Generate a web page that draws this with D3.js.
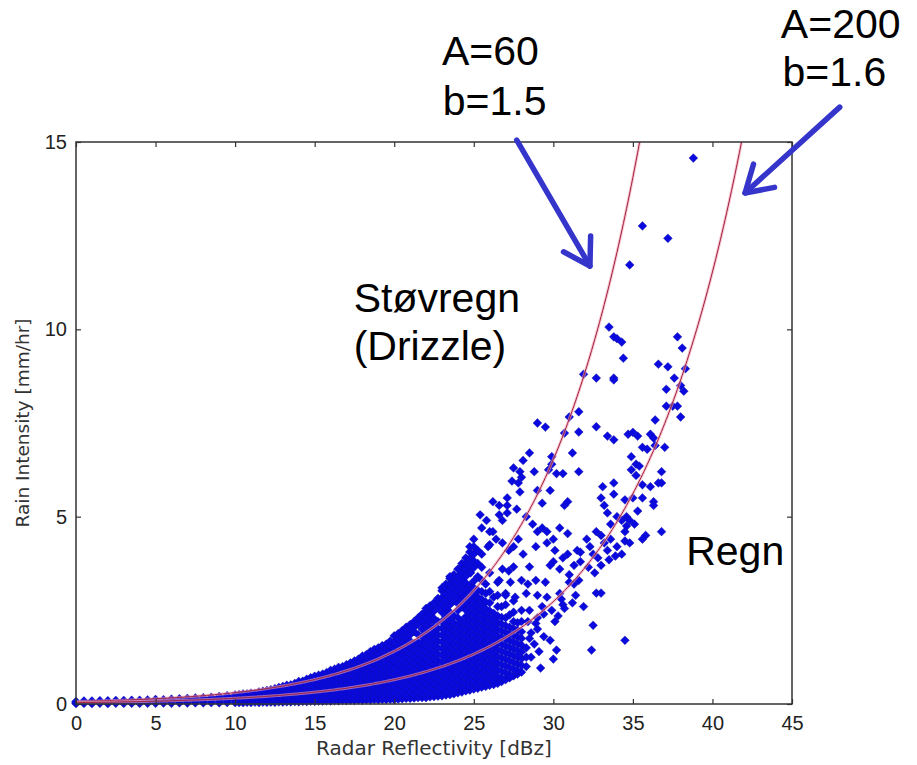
<!DOCTYPE html>
<html lang="en">
<head>
    <meta charset="UTF-8">
    <script src="https://d3js.org/d3.v7.min.js" charset="utf-8"></script>
    <title>Z-R scatter</title>
    <style>
        body { margin: 0; background: #fff; }
        .tick text { font-family: "Liberation Sans Narrow", "Liberation Sans", Arial, sans-serif; font-size: 20px; fill: #222; }
        .axis-label { font-family: "DejaVu Sans", sans-serif; fill: #333; }
        .note { font-family: "Liberation Sans", Arial, sans-serif; font-size: 41px; fill: #000; }
    </style>
</head>
<body>
    <div id="chart"></div>
    <script>
        const width = 917;
        const height = 765;

        const xTicks = [0, 5, 10, 15, 20, 25, 30, 35, 40, 45];
        const yTicks = [0, 5, 10, 15];

        // Z = A * R^b relations drawn as curves
        const relations = [
            { A: 60, b: 1.5 },
            { A: 200, b: 1.6 }
        ];

        // dense part of the cloud, read column by column: [dBZ, [rain values]]
        const bandColumns = [
            [0, [0.01, 0.04, 0.07]],
            [0.5, [0.015, 0.05, 0.08]],
            [1, [0.01, 0.045, 0.08]],
            [1.5, [0.02, 0.055, 0.09]],
            [2, [0.01, 0.05, 0.09]],
            [2.5, [0.02, 0.06, 0.095]],
            [3, [0.015, 0.055, 0.095]],
            [3.5, [0.02, 0.06, 0.1]],
            [4, [0.015, 0.055, 0.1]],
            [4.5, [0.02, 0.065, 0.11]],
            [5, [0.02, 0.06, 0.1, 0.12]],
            [5.5, [0.025, 0.07, 0.115]],
            [6, [0.02, 0.065, 0.11, 0.13]],
            [6.5, [0.03, 0.075, 0.12, 0.14]],
            [7, [0.025, 0.07, 0.115, 0.15]],
            [7.5, [0.03, 0.08, 0.125, 0.16]],
            [8, [0.03, 0.075, 0.12, 0.17]],
            [8.5, [0.035, 0.085, 0.135, 0.18]],
            [9, [0.03, 0.08, 0.13, 0.18, 0.2]],
            [9.5, [0.04, 0.09, 0.14, 0.19, 0.22]],
            [10, [0.035, 0.085, 0.135, 0.185, 0.24]],
            [10.25, [0.04, 0.09, 0.14, 0.19, 0.25]],
            [10.5, [0.035, 0.08, 0.13, 0.18, 0.23, 0.27]],
            [10.75, [0.045, 0.1, 0.155, 0.21, 0.27]],
            [11, [0.04, 0.09, 0.14, 0.19, 0.24, 0.29]],
            [11.25, [0.05, 0.1, 0.16, 0.22, 0.28]],
            [11.5, [0.04, 0.09, 0.15, 0.21, 0.27, 0.32]],
            [11.75, [0.05, 0.11, 0.17, 0.23, 0.29, 0.34]],
            [12, [0.045, 0.1, 0.16, 0.22, 0.28, 0.36]],
            [12.25, [0.05, 0.11, 0.18, 0.25, 0.32, 0.38]],
            [12.5, [0.045, 0.1, 0.16, 0.23, 0.3, 0.37, 0.41]],
            [12.75, [0.055, 0.12, 0.19, 0.26, 0.33, 0.4, 0.44]],
            [13, [0.05, 0.11, 0.18, 0.25, 0.32, 0.39, 0.47]],
            [13.25, [0.06, 0.13, 0.2, 0.28, 0.36, 0.44, 0.5]],
            [13.5, [0.055, 0.12, 0.19, 0.27, 0.35, 0.43, 0.51]],
            [13.75, [0.065, 0.14, 0.22, 0.3, 0.38, 0.46, 0.55]],
            [14, [0.06, 0.18, 0.3, 0.42, 0.54, 0.6]],
            [14.25, [0.07, 0.13, 0.25, 0.37, 0.49, 0.61]],
            [14.5, [0.065, 0.19, 0.31, 0.43, 0.55, 0.66]],
            [14.75, [0.075, 0.14, 0.26, 0.38, 0.5, 0.62, 0.7]],
            [15, [0.07, 0.2, 0.32, 0.44, 0.56, 0.68, 0.74]],
            [15.25, [0.08, 0.15, 0.27, 0.39, 0.51, 0.63, 0.77]],
            [15.5, [0.075, 0.21, 0.33, 0.45, 0.57, 0.69, 0.8]],
            [15.75, [0.085, 0.16, 0.28, 0.4, 0.52, 0.64, 0.76, 0.84]],
            [16, [0.08, 0.22, 0.34, 0.46, 0.58, 0.7, 0.82, 0.9]],
            [16.25, [0.09, 0.16, 0.28, 0.4, 0.52, 0.64, 0.76, 0.88, 0.93]],
            [16.5, [0.085, 0.22, 0.34, 0.46, 0.58, 0.7, 0.82, 0.94, 0.98]],
            [16.75, [0.095, 0.17, 0.29, 0.41, 0.53, 0.65, 0.77, 0.89, 1.0]],
            [17, [0.09, 0.23, 0.35, 0.47, 0.59, 0.71, 0.83, 0.95, 1.05]],
            [17.25, [0.1, 0.18, 0.3, 0.42, 0.54, 0.66, 0.78, 0.9, 1.02, 1.1]],
            [17.5, [0.095, 0.24, 0.36, 0.48, 0.6, 0.72, 0.84, 0.96, 1.08, 1.15]],
            [17.75, [0.105, 0.19, 0.31, 0.43, 0.55, 0.67, 0.79, 0.91, 1.03, 1.15, 1.2]],
            [18, [0.1, 0.25, 0.37, 0.49, 0.61, 0.73, 0.85, 0.97, 1.09, 1.21, 1.28]],
            [18.25, [0.11, 0.2, 0.32, 0.44, 0.56, 0.68, 0.8, 0.92, 1.04, 1.22, 1.32]],
            [18.5, [0.105, 0.26, 0.38, 0.5, 0.62, 0.74, 0.86, 0.98, 1.13, 1.28, 1.4]],
            [18.75, [0.115, 0.21, 0.33, 0.45, 0.57, 0.69, 0.81, 0.93, 1.08, 1.2, 1.3, 1.42, 1.46]],
            [19, [0.11, 0.27, 0.39, 0.51, 0.63, 0.75, 0.87, 0.99, 1.12, 1.24, 1.36, 1.48, 1.5]],
            [19.25, [0.12, 0.22, 0.34, 0.46, 0.58, 0.7, 0.82, 0.94, 1.06, 1.24, 1.42, 1.56]],
            [19.5, [0.115, 0.28, 0.4, 0.52, 0.64, 0.76, 0.88, 1.0, 1.12, 1.3, 1.48, 1.6]],
            [19.75, [0.125, 0.23, 0.35, 0.47, 0.59, 0.71, 0.83, 0.95, 1.07, 1.19, 1.31, 1.43, 1.55, 1.68]],
            [20, [0.12, 0.29, 0.46, 0.63, 0.8, 0.97, 1.14, 1.31, 1.48, 1.65, 1.82]],
            [20.25, [0.13, 0.21, 0.38, 0.55, 0.72, 0.89, 1.06, 1.23, 1.4, 1.57, 1.74, 1.88]],
            [20.5, [0.14, 0.3, 0.47, 0.64, 0.81, 0.98, 1.15, 1.32, 1.49, 1.66, 1.83, 1.96]],
            [20.75, [0.15, 0.23, 0.4, 0.57, 0.74, 0.91, 1.08, 1.25, 1.42, 1.59, 1.76, 1.93, 2.05]],
            [21, [0.15, 0.32, 0.49, 0.66, 0.83, 1.0, 1.17, 1.34, 1.51, 1.68, 1.85, 2.02, 2.12]],
            [21.25, [0.16, 0.25, 0.42, 0.59, 0.76, 0.93, 1.1, 1.27, 1.44, 1.61, 1.93, 2.05, 2.2]],
            [21.5, [0.17, 0.34, 0.51, 0.68, 0.85, 1.02, 1.19, 1.36, 1.53, 1.65, 1.85, 2.13, 2.3]],
            [21.75, [0.17, 0.27, 0.44, 0.61, 0.78, 0.95, 1.12, 1.29, 1.46, 1.63, 1.8, 2.0, 2.2, 2.4]],
            [22, [0.17, 0.35, 0.52, 0.69, 0.86, 1.03, 1.2, 1.37, 1.54, 1.71, 1.88, 2.1, 2.3, 2.47, 2.55]],
            [22.25, [0.19, 0.29, 0.46, 0.63, 0.8, 0.97, 1.14, 1.31, 1.48, 1.65, 1.82, 2.0, 2.2, 2.39, 2.56, 2.62]],
            [22.5, [0.2, 0.37, 0.54, 0.71, 0.88, 1.05, 1.22, 1.39, 1.56, 1.73, 1.9, 2.07, 2.28, 2.48, 2.65, 2.7]],
            [22.75, [0.21, 0.31, 0.48, 0.65, 0.82, 0.99, 1.16, 1.33, 1.5, 1.67, 1.84, 2.01, 2.2, 2.57, 2.74, 2.82]],
            [23, [0.22, 0.4, 0.58, 0.76, 0.94, 1.12, 1.3, 1.48, 1.66, 1.84, 2.02, 2.2, 2.45, 2.66, 2.84, 3.02, 3.1]],
            [23.25, [0.24, 0.33, 0.51, 0.69, 0.87, 1.05, 1.23, 1.41, 1.59, 1.77, 1.95, 2.13, 2.33, 2.55, 2.75, 2.93, 3.11, 3.2]],
            [23.5, [0.25, 0.43, 0.61, 0.79, 0.97, 1.15, 1.33, 1.51, 1.69, 1.87, 2.05, 2.23, 2.45, 2.65, 2.84, 3.02, 3.2, 3.35]],
            [23.75, [0.27, 0.36, 0.54, 0.72, 0.9, 1.08, 1.26, 1.44, 1.62, 1.8, 1.98, 2.16, 2.35, 2.75, 2.93, 3.11, 3.29, 3.45]],
            [24, [0.3, 0.48, 0.66, 0.84, 1.02, 1.2, 1.38, 1.56, 1.74, 1.92, 2.1, 2.3, 2.5, 2.68, 2.86, 3.04, 3.22, 3.4, 3.6]],
            [24.25, [0.32, 0.41, 0.59, 0.77, 0.95, 1.13, 1.31, 1.49, 1.67, 1.85, 2.03, 2.21, 2.59, 2.77, 2.95, 3.13, 3.31, 3.49, 3.67, 3.75]],
            [24.5, [0.35, 0.53, 0.71, 0.89, 1.07, 1.25, 1.43, 1.61, 1.79, 1.97, 2.15, 2.33, 2.51, 2.69, 2.87, 3.05, 3.23, 3.41, 3.59, 3.77, 3.9]],
            [24.75, [0.37, 0.46, 0.64, 0.82, 1.0, 1.18, 1.36, 1.54, 1.72, 1.9, 2.08, 2.26, 2.44, 2.62, 2.8, 2.98, 3.16, 3.52, 3.7, 3.88, 4.06, 4.2]],
            [25, [0.4, 0.58, 0.76, 0.94, 1.12, 1.3, 1.48, 1.66, 1.84, 2.02, 2.2, 2.38, 2.56, 2.74, 2.92, 3.1, 3.28, 3.64, 3.82, 4.0, 4.2, 4.4]],
            [25.25, [0.42, 0.51, 0.69, 0.87, 1.05, 1.23, 1.41, 1.59, 1.77, 1.95, 2.13, 2.31, 2.49, 2.67, 2.85, 3.03, 3.4, 3.75, 4.1]],
            [25.5, [0.45, 0.63, 0.81, 0.99, 1.17, 1.35, 1.53, 1.71, 1.89, 2.07, 2.25, 2.43, 2.61, 2.79, 3.0, 3.3, 3.65, 4.0]],
            [25.75, [0.47, 0.56, 0.74, 0.92, 1.1, 1.28, 1.46, 1.64, 1.82, 2.0, 2.18, 2.36, 2.54, 2.72, 2.95, 3.2]],
            [26, [0.5, 0.68, 0.86, 1.04, 1.22, 1.4, 1.58, 1.76, 1.94, 2.12, 2.3, 2.48, 2.7, 3.0, 3.5]],
            [26.25, [0.52, 0.62, 0.8, 0.98, 1.16, 1.34, 1.52, 1.7, 1.88, 2.06, 2.24, 2.42, 2.85]],
            [26.5, [0.55, 0.73, 0.91, 1.09, 1.27, 1.45, 1.63, 1.81, 1.99, 2.17, 2.35, 2.6, 2.9, 3.25]],
            [26.75, [0.6, 0.69, 0.87, 1.05, 1.23, 1.41, 1.59, 1.77, 1.95, 2.13, 2.31, 2.6]],
            [27, [0.65, 0.83, 1.01, 1.19, 1.37, 1.55, 1.73, 1.91, 2.09, 2.3, 2.65, 2.95]],
            [27.25, [0.7, 0.79, 0.97, 1.15, 1.33, 1.51, 1.69, 1.87, 2.05, 2.38]],
            [27.5, [0.75, 0.93, 1.11, 1.29, 1.47, 1.65, 1.83, 2.01, 2.2, 2.45, 2.75]],
            [27.75, [0.8, 0.89, 1.07, 1.25, 1.43, 1.61, 1.79, 1.97, 2.17]],
            [28, [0.85, 1.03, 1.21, 1.39, 1.57, 1.75, 1.93, 2.2, 2.5]]
        ];

        // sparse points at higher reflectivity: [dBZ, rain]
        const scattered = [
            [38.8, 14.57], [35.6, 12.76], [37.2, 12.43], [34.8, 11.72],
            [33.5, 10.06], [33.8, 9.8], [34.0, 9.75], [34.3, 9.66], [34.4, 9.23], [33.8, 8.7],
            [37.8, 9.8], [38.1, 9.5], [36.6, 9.07], [37.2, 9.0], [38.3, 8.95], [37.6, 8.7],
            [38.0, 8.5], [37.1, 8.4], [38.2, 8.35], [31.9, 8.8], [32.7, 8.7], [33.8, 8.65],
            [37.1, 7.95], [37.5, 7.95], [37.8, 7.95], [38.0, 7.66], [36.4, 7.58],
            [31.6, 7.8], [31.0, 7.66], [29.0, 7.5], [29.5, 7.39], [32.7, 7.4], [31.6, 7.26], [30.7, 7.23],
            [33.4, 7.15], [33.8, 7.05], [34.7, 7.2], [35.0, 7.25], [35.3, 7.15], [36.1, 7.2], [36.3, 7.1],
            [35.6, 6.85], [35.9, 6.8], [36.4, 6.9], [37.0, 6.85],
            [28.5, 6.7], [31.2, 6.7], [29.9, 6.6], [29.9, 6.4], [28.1, 6.5],
            [27.5, 6.3], [27.9, 6.2], [27.4, 5.95], [27.8, 5.9], [28.0, 6.05], [28.8, 6.2],
            [29.7, 6.25], [30.2, 6.15], [30.6, 6.15], [31.6, 6.2],
            [34.9, 6.6], [35.2, 6.4], [34.9, 6.25], [35.4, 6.35], [35.2, 6.1], [36.8, 6.2],
            [36.8, 5.9], [35.6, 5.85], [36.1, 5.8], [36.6, 5.9],
            [29.8, 5.7], [29.0, 5.7], [27.9, 5.66], [27.1, 5.5], [27.1, 5.3], [27.1, 5.1],
            [27.7, 5.2], [28.3, 5.0], [29.3, 5.36], [30.7, 5.3], [30.9, 5.4],
            [33.0, 5.5], [33.2, 5.3], [33.4, 5.1], [33.8, 5.9], [33.8, 5.6], [33.1, 5.8],
            [34.5, 5.45], [35.0, 5.5], [35.6, 5.5], [36.3, 5.4], [36.3, 5.3],
            [34.6, 5.0], [35.1, 4.8], [34.5, 4.6], [35.3, 5.15], [36.8, 4.6], [35.8, 4.5], [35.6, 4.4],
            [26.2, 5.4], [26.6, 5.3], [25.4, 5.05], [25.8, 4.9], [26.0, 4.6], [25.5, 4.7],
            [26.6, 5.05], [26.8, 4.9], [26.2, 4.6], [26.4, 4.4], [26.0, 4.25], [25.9, 4.2], [26.8, 4.3],
            [28.1, 4.0], [28.7, 4.8], [29.0, 4.6], [29.3, 4.7], [29.6, 4.3], [28.9, 4.2],
            [29.6, 4.6], [30.0, 4.4], [30.4, 4.7], [30.9, 4.55], [30.1, 4.1], [30.6, 3.9],
            [30.9, 4.0], [30.0, 3.8], [30.4, 3.6], [29.8, 3.7], [31.0, 3.45], [31.3, 3.7],
            [31.5, 4.1], [31.7, 4.05], [32.1, 4.4], [32.3, 4.2], [32.5, 4.0], [32.7, 4.6],
            [33.0, 4.5], [33.2, 4.3], [33.4, 4.1], [32.8, 3.9], [33.6, 4.4], [34.0, 4.2],
            [34.3, 4.0], [34.5, 4.35], [34.8, 4.3], [33.9, 3.95], [33.5, 3.85],
            [31.7, 3.8], [32.2, 3.65], [32.6, 3.5], [33.0, 3.7],
            [33.6, 4.8], [34.0, 5.0], [34.3, 4.9], [34.6, 4.75], [34.8, 4.9],
            [31.0, 3.25], [31.3, 3.2], [31.6, 3.3],
            [27.5, 3.66], [26.8, 3.6], [27.2, 3.55], [28.5, 3.66], [27.5, 4.2], [27.8, 4.4], [27.2, 4.1],
            [26.6, 3.3], [27.3, 3.25], [28.0, 3.3], [28.4, 3.2], [28.9, 3.3], [29.5, 3.25],
            [27.0, 2.9], [27.6, 2.85], [28.3, 2.95], [29.0, 2.9], [29.6, 2.85], [30.4, 2.95],
            [30.6, 2.65], [31.2, 2.7], [31.9, 2.6], [31.4, 2.9], [32.7, 2.96], [33.0, 2.96],
            [28.5, 2.5], [29.0, 2.3], [29.4, 2.4], [29.9, 2.5], [30.3, 2.35], [30.7, 2.55], [30.1, 2.2],
            [28.6, 1.9], [29.0, 2.0], [29.4, 1.8], [29.8, 1.7], [28.8, 1.6], [28.4, 2.2], [28.3, 1.5],
            [28.3, 1.25], [28.5, 1.75], [28.9, 2.15], [29.3, 2.6], [30.5, 2.8], [29.1, 1.4],
            [29.2, 0.96], [30.2, 1.44], [30.0, 1.2], [32.4, 1.44], [32.5, 2.1], [34.5, 1.7],
            [27.3, 0.73], [27.8, 1.3], [28.3, 1.0], [28.6, 1.25], [23.5, 3.4], [24.8, 3.5]
        ];

        // text notes and arrows, anchored in data units
        const notes = [
            { text: "A=60", x: 23.0, y: 17.05 },
            { text: "b=1.5", x: 23.05, y: 15.72 },
            { text: "A=200", x: 44.3, y: 17.78 },
            { text: "b=1.6", x: 44.4, y: 16.5 },
            { text: "Støvregn", x: 17.45, y: 10.45 },
            { text: "(Drizzle)", x: 17.45, y: 9.17 },
            { text: "Regn", x: 38.35, y: 3.71 }
        ];
        const arrows = [
            { from: [27.7, 15.05], to: [32.3, 11.69] },
            { from: [48.0, 15.93], to: [42.05, 13.64] }
        ];

        const points = bandColumns
            .flatMap(([dbz, rs]) => rs.map(r => [dbz, r]))
            .concat(scattered);

        const svg = d3.select("#chart").append("svg")
            .attr("width", width)
            .attr("height", height);

        const x = d3.scaleLinear().domain([0, 45]).range([76, 792]);
        const y = d3.scaleLinear().domain([0, 15]).range([704, 142]);

        svg.append("clipPath").attr("id", "plot-clip")
            .append("rect")
            .attr("x", x(0)).attr("y", y(15))
            .attr("width", x(45) - x(0)).attr("height", y(0) - y(15));

        // points
        const diamond = "M0,-4.4L4.4,0L0,4.4L-4.4,0Z";
        svg.append("g")
            .selectAll("path")
            .data(points)
            .enter()
            .append("path")
            .attr("d", diamond)
            .attr("transform", d => `translate(${x(d[0])},${y(d[1])})`)
            .attr("fill", "#0a0ae0")
            .attr("stroke", "#10109a")
            .attr("stroke-width", 0.4);

        // Z-R curves
        const dbzSteps = d3.range(0, 45.01, 0.1);
        const line = d3.line()
            .x(d => x(d[0]))
            .y(d => y(d[1]));
        const curveGroup = svg.append("g").attr("clip-path", "url(#plot-clip)");
        relations.forEach(rel => {
            const pts = dbzSteps.map(dbz => [dbz, Math.pow(Math.pow(10, dbz / 10) / rel.A, 1 / rel.b)]);
            curveGroup.append("path")
                .attr("d", line(pts))
                .attr("fill", "none")
                .attr("stroke", "#f2a0b4")
                .attr("stroke-width", 3)
                .attr("opacity", 0.6);
            curveGroup.append("path")
                .attr("d", line(pts))
                .attr("fill", "none")
                .attr("stroke", "#a0203c")
                .attr("stroke-width", 1);
        });

        // axes, ticks pointing inwards like matlab
        svg.append("g")
            .attr("transform", `translate(0,${y(0)})`)
            .call(d3.axisBottom(x).tickValues(xTicks).tickSizeInner(-5).tickSizeOuter(0).tickPadding(12));
        svg.append("g")
            .attr("transform", `translate(0,${y(15)})`)
            .call(d3.axisTop(x).tickValues(xTicks).tickSizeInner(-5).tickSizeOuter(0).tickFormat(""));
        svg.append("g")
            .attr("transform", `translate(${x(0)},0)`)
            .call(d3.axisLeft(y).tickValues(yTicks).tickSizeInner(-5).tickSizeOuter(0).tickPadding(9));
        svg.append("g")
            .attr("transform", `translate(${x(45)},0)`)
            .call(d3.axisRight(y).tickValues(yTicks).tickSizeInner(-5).tickSizeOuter(0).tickFormat(""));

        svg.selectAll(".domain").remove();
        svg.selectAll(".tick line").attr("stroke", "#333").attr("stroke-width", 1.2);

        svg.append("rect")
            .attr("x", x(0)).attr("y", y(15))
            .attr("width", x(45) - x(0)).attr("height", y(0) - y(15))
            .attr("fill", "none")
            .attr("stroke", "#333")
            .attr("stroke-width", 1.5);

        svg.append("text")
            .attr("class", "axis-label")
            .attr("x", (x(0) + x(45)) / 2)
            .attr("y", 755)
            .attr("text-anchor", "middle")
            .style("font-size", "20px")
            .text("Radar Reflectivity [dBz]");
        svg.append("text")
            .attr("class", "axis-label")
            .attr("transform", `translate(29,${(y(0) + y(15)) / 2}) rotate(-90)`)
            .attr("text-anchor", "middle")
            .style("font-size", "18.5px")
            .text("Rain Intensity [mm/hr]");

        // annotations
        svg.selectAll(".note")
            .data(notes)
            .enter()
            .append("text")
            .attr("class", "note")
            .attr("x", d => x(d.x))
            .attr("y", d => y(d.y))
            .text(d => d.text);

        const arrowColor = "#3535cc";
        arrows.forEach(a => {
            const x1 = x(a.from[0]), y1 = y(a.from[1]);
            const x2 = x(a.to[0]), y2 = y(a.to[1]);
            const ang = Math.atan2(y1 - y2, x1 - x2);
            const len = 30, spread = 0.55;
            const g = svg.append("g")
                .attr("stroke", arrowColor)
                .attr("stroke-width", 5.5)
                .attr("stroke-linecap", "round")
                .attr("fill", "none");
            g.append("line").attr("x1", x1).attr("y1", y1).attr("x2", x2).attr("y2", y2);
            g.append("path")
                .attr("stroke-linejoin", "round")
                .attr("d", `M${x2 + len * Math.cos(ang - spread)},${y2 + len * Math.sin(ang - spread)}L${x2},${y2}L${x2 + len * Math.cos(ang + spread)},${y2 + len * Math.sin(ang + spread)}`);
        });
    </script>
</body>
</html>
